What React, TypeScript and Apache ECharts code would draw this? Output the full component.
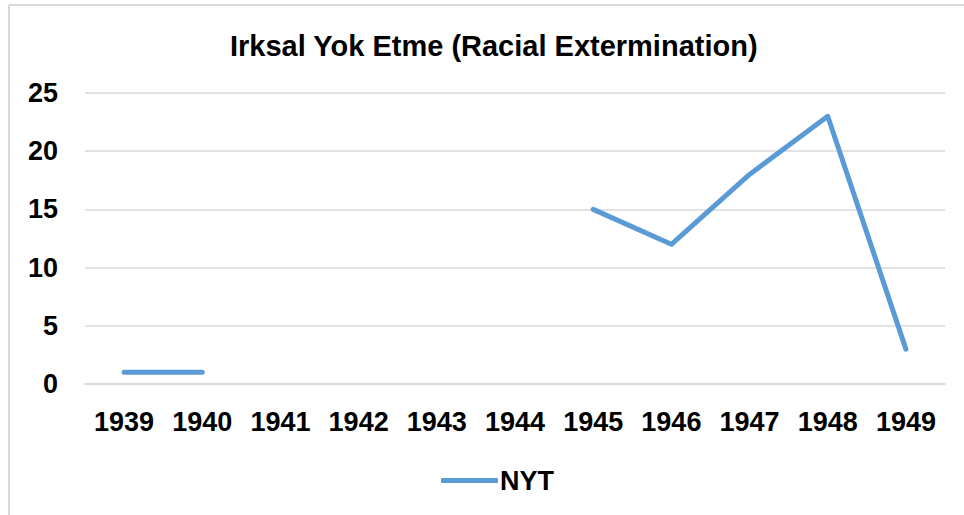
import React, { useEffect, useRef } from "react";
import * as echarts from "echarts";

const years = ["1939", "1940", "1941", "1942", "1943", "1944", "1945", "1946", "1947", "1948", "1949"];
const nyt: (number | null)[] = [1, 1, null, null, null, null, 15, 12, 18, 23, 3];
const yTicks = { min: 0, max: 25, interval: 5 };
const titleText = "Irksal Yok Etme (Racial Extermination)";
const seriesName = "NYT";

const FONT = "'Liberation Sans', Arial, sans-serif";

export default function App() {
  const ref = useRef<HTMLDivElement>(null);
  useEffect(() => {
    document.body.style.margin = "0";
    const chart = echarts.init(ref.current!, null, { renderer: "svg" });
    chart.setOption({
      animation: false,
      backgroundColor: "#ffffff",
      title: {
        text: titleText,
        left: 225,
        top: 26,
        textStyle: { fontFamily: FONT, fontSize: 29, fontWeight: "bold", color: "#000" },
      },
      graphic: [
        { type: "line", shape: { x1: 9, y1: 5, x2: 964, y2: 5 }, style: { stroke: "#d9d9d9", lineWidth: 2 } },
        { type: "line", shape: { x1: 9, y1: 5, x2: 9, y2: 515 }, style: { stroke: "#d9d9d9", lineWidth: 2 } },
      ],
      grid: { left: 85, right: 19, top: 93, bottom: 131 },
      xAxis: {
        type: "category",
        data: years,
        boundaryGap: true,
        axisLine: { lineStyle: { color: "#d9d9d9", width: 1.5 } },
        axisTick: { show: false },
        axisLabel: { fontFamily: FONT, fontSize: 27, fontWeight: "bold", color: "#000", margin: 24 },
      },
      yAxis: {
        type: "value",
        min: yTicks.min,
        max: yTicks.max,
        interval: yTicks.interval,
        axisLine: { show: false },
        axisTick: { show: false },
        splitLine: { lineStyle: { color: "#d9d9d9", width: 1.5 } },
        axisLabel: { fontFamily: FONT, fontSize: 27, fontWeight: "bold", color: "#000", margin: 27 },
      },
      legend: {
        left: 436,
        top: 462,
        icon: "roundRect",
        itemWidth: 57,
        itemHeight: 5,
        itemGap: 10,
        textStyle: { fontFamily: FONT, fontSize: 27, fontWeight: "bold", color: "#000", padding: [0, 0, 0, -3] },
        data: [{ name: seriesName }],
      },
      series: [
        {
          name: seriesName,
          type: "line",
          data: nyt,
          connectNulls: false,
          showSymbol: false,
          symbol: "none",
          color: "#5b9bd5",
          lineStyle: { color: "#5b9bd5", width: 5, cap: "round", join: "round" },
        },
      ],
    });
    return () => chart.dispose();
  }, []);
  return <div ref={ref} style={{ width: 964, height: 515, position: "absolute", left: 0, top: 0 }} />;
}
